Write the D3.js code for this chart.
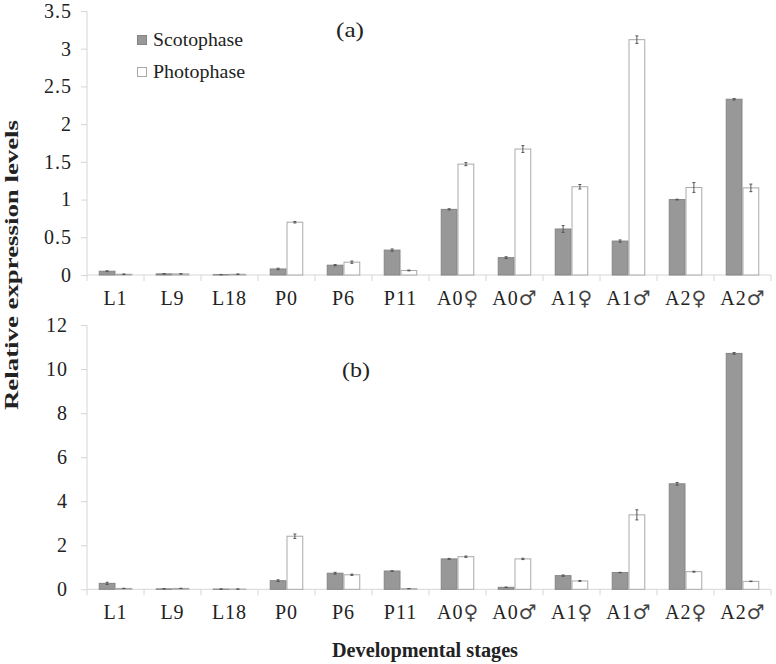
<!DOCTYPE html>
<html><head><meta charset="utf-8">
<script src="https://cdn.jsdelivr.net/npm/d3@7"></script>
<style>
html,body{margin:0;padding:0;background:#fff;}
svg text{fill:#222;}
</style></head>
<body><svg id="c" width="776" height="664"></svg>
<script>
const categories = ["L1","L9","L18","P0","P6","P11","A0♀","A0♂","A1♀","A1♂","A2♀","A2♂"];
const seriesNames = ["Scotophase","Photophase"];

const topScoto    = [0.05, 0.015, 0.005, 0.08, 0.13, 0.33, 0.87, 0.23, 0.61, 0.45, 1.0, 2.33];
const topScotoErr = [0.005, 0.003, 0.002, 0.01, 0.008, 0.015, 0.008, 0.012, 0.045, 0.015, 0.005, 0.01];
const topPhoto    = [0.01, 0.015, 0.01, 0.70, 0.17, 0.06, 1.47, 1.67, 1.17, 3.12, 1.16, 1.155];
const topPhotoErr = [0.003, 0.003, 0.003, 0.01, 0.015, 0.005, 0.02, 0.045, 0.03, 0.05, 0.065, 0.05];

const botScoto    = [0.27, 0.02, 0.01, 0.39, 0.73, 0.83, 1.38, 0.09, 0.62, 0.76, 4.79, 10.71];
const botScotoErr = [0.05, 0.005, 0.005, 0.04, 0.04, 0.01, 0.02, 0.01, 0.03, 0.01, 0.06, 0.04];
const botPhoto    = [0.04, 0.04, 0.01, 2.41, 0.66, 0.03, 1.48, 1.38, 0.38, 3.38, 0.80, 0.36];
const botPhotoErr = [0.005, 0.005, 0.003, 0.1, 0.03, 0.005, 0.03, 0.03, 0.02, 0.23, 0.02, 0.01];

const topTicks = [0, 0.5, 1, 1.5, 2, 2.5, 3, 3.5];
const botTicks = [0, 2, 4, 6, 8, 10, 12];

const FONT = "'Liberation Serif', Tinos, 'Times New Roman', serif";
const svg = d3.select("#c").attr("font-family", FONT);
const X0 = 87, X1 = 771;
const x = d3.scaleBand().domain(categories).range([X0, X1]).paddingInner(0).paddingOuter(0);
const xs = d3.scaleBand().domain(seriesNames).range([0, x.bandwidth()]).paddingInner(0).paddingOuter(0.7);
const fills = {Scotophase:"#989898", Photophase:"#ffffff"};
const strokes = {Scotophase:"#858585", Photophase:"#a9a9a9"};
const axisColor = "#d6d6d6";

function catLabel(sel, fontSize) {
  sel.each(function(d) {
    const t = d3.select(this);
    const m = d.match(/^(.*?)([♀♂]?)$/);
    t.append("tspan").attr("letter-spacing", 1).text(m[1]);
    if (m[2]) t.append("tspan").attr("font-size", fontSize).attr("font-family", "'DejaVu Sans', sans-serif")
      .attr("fill", "#444").text(m[2]);
  });
}

function panel(scoto, scotoErr, photo, photoErr, ticks, yBottom, yTop, maxV, label, labelPos, tickPad, fontSize, labelBase) {
  const y = d3.scaleLinear().domain([0, maxV]).range([yBottom, yTop]);
  const g = svg.append("g");
  const ya = g.append("g").attr("transform", `translate(${X0},0)`)
    .call(d3.axisLeft(y).tickValues(ticks).tickSize(6).tickPadding(tickPad).tickFormat(d3.format("")));
  ya.attr("font-family", FONT);
  ya.select(".domain").attr("stroke", axisColor).attr("d", `M-0,${yTop}H0V${yBottom}`);
  ya.selectAll(".tick line").attr("stroke", axisColor);
  ya.selectAll(".tick text").attr("font-size", fontSize).attr("fill","#222").attr("letter-spacing", 1);
  g.append("line").attr("x1", X0).attr("x2", X1).attr("y1", yBottom).attr("y2", yBottom).attr("stroke", axisColor);
  const bounds = categories.map(c => x(c)).concat([X1]);
  g.selectAll(".bt").data(bounds).enter().append("line")
    .attr("x1", d => d).attr("x2", d => d).attr("y1", yBottom).attr("y2", yBottom + 6).attr("stroke", axisColor);
  g.selectAll(".xl").data(categories).enter().append("text")
    .attr("x", d => x(d) + x.bandwidth()/2).attr("y", labelBase)
    .attr("text-anchor","middle").attr("font-size", fontSize)
    .call(catLabel, fontSize);
  const data = categories.map((c,i) => [
    {c, s:"Scotophase", v:scoto[i], e:scotoErr[i]},
    {c, s:"Photophase", v:photo[i], e:photoErr[i]}]).flat();
  g.selectAll(".bar").data(data).enter().append("rect")
    .attr("x", d => x(d.c) + xs(d.s) + 0.5)
    .attr("width", xs.bandwidth() - 1)
    .attr("y", d => y(d.v))
    .attr("height", d => Math.max(0, y(0) - y(d.v)))
    .attr("fill", d => fills[d.s]).attr("stroke", d => strokes[d.s]).attr("stroke-width", 1);
  const eb = g.selectAll(".eb").data(data).enter().append("g").attr("stroke","#555").attr("stroke-width",1);
  const cx = d => x(d.c) + xs(d.s) + xs.bandwidth()/2;
  eb.append("line").attr("x1", cx).attr("x2", cx).attr("y1", d => y(d.v + d.e)).attr("y2", d => y(d.v - d.e));
  eb.append("line").attr("x1", d => cx(d)-1.5).attr("x2", d => cx(d)+1.5).attr("y1", d => y(d.v + d.e)).attr("y2", d => y(d.v + d.e));
  eb.append("line").attr("x1", d => cx(d)-1.5).attr("x2", d => cx(d)+1.5).attr("y1", d => y(d.v - d.e)).attr("y2", d => y(d.v - d.e));
  g.append("text").attr("x", labelPos[0]).attr("y", labelPos[1])
    .attr("font-size", 21).attr("textLength", 28).attr("lengthAdjust","spacingAndGlyphs").text(label);
}

panel(topScoto, topScotoErr, topPhoto, topPhotoErr, topTicks, 275, 11, 3.5, "(a)", [336, 37], 9, 20, 305);
panel(botScoto, botScotoErr, botPhoto, botPhotoErr, botTicks, 589.3, 325, 12, "(b)", [342, 377], 13, 20, 619);

const leg = svg.append("g");
seriesNames.forEach((s, i) => {
  leg.append("rect").attr("x", 137.5).attr("y", 35.5 + i*32).attr("width", 9).attr("height", 9)
    .attr("fill", fills[s]).attr("stroke", strokes[s]);
  leg.append("text").attr("x", 153).attr("y", 46 + i*32).attr("font-size", 19)
    .attr("textLength", s === "Scotophase" ? 90 : 92).attr("lengthAdjust","spacingAndGlyphs").text(s);
});

svg.append("text").attr("transform","translate(18,265) rotate(-90)").attr("text-anchor","middle")
  .attr("font-size", 18).attr("font-weight","bold").attr("fill","#111")
  .attr("textLength", 290).attr("lengthAdjust","spacingAndGlyphs").text("Relative expression levels");
svg.append("text").attr("x", 425).attr("y", 657).attr("text-anchor","middle")
  .attr("font-size", 20).attr("font-weight","bold").attr("fill","#111")
  .attr("textLength", 186).attr("lengthAdjust","spacingAndGlyphs").text("Developmental stages");
</script></body></html>
